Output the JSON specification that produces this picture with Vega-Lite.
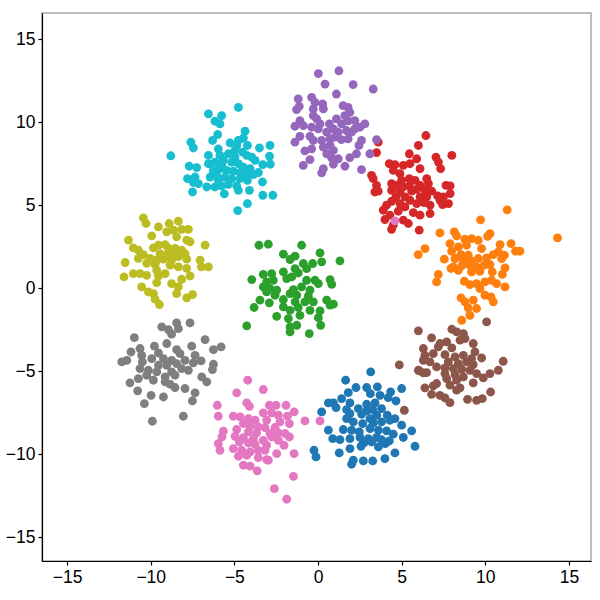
{
"$schema":"https://vega.github.io/schema/vega-lite/v6.json",
"width":549,"height":548,
"autosize":{"type":"none"},
"padding":{"left":42,"top":13,"right":9,"bottom":39},
"background":"white",
"config":{"view":{"stroke":"#a6a6a6","strokeWidth":1.5},"axis":{"grid":false,"domainColor":"black","domainWidth":1.2,"tickColor":"black","tickSize":4,"tickWidth":1.2,"labelColor":"black","labelFont":"Liberation Sans","labelFontSize":17.5,"title":null}},
"data":{"values":[
{"x":3.15,"y":-5.04,"g":"c1"},{"x":1.65,"y":-5.54,"g":"c1"},{"x":2.27,"y":-5.98,"g":"c1"},{"x":2.91,"y":-5.98,"g":"c1"},{"x":3.55,"y":-5.94,"g":"c1"},{"x":4.34,"y":-6.24,"g":"c1"},{"x":5.0,"y":-6.04,"g":"c1"},{"x":1.81,"y":-6.29,"g":"c1"},{"x":3.13,"y":-6.35,"g":"c1"},{"x":3.71,"y":-6.45,"g":"c1"},{"x":1.41,"y":-6.65,"g":"c1"},{"x":4.2,"y":-6.59,"g":"c1"},{"x":0.62,"y":-6.91,"g":"c1"},{"x":0.92,"y":-6.91,"g":"c1"},{"x":1.91,"y":-6.91,"g":"c1"},{"x":2.91,"y":-6.99,"g":"c1"},{"x":3.41,"y":-6.91,"g":"c1"},{"x":4.66,"y":-6.79,"g":"c1"},{"x":1.08,"y":-7.19,"g":"c1"},{"x":1.71,"y":-7.31,"g":"c1"},{"x":2.41,"y":-7.25,"g":"c1"},{"x":2.91,"y":-7.39,"g":"c1"},{"x":3.27,"y":-7.31,"g":"c1"},{"x":3.8,"y":-7.25,"g":"c1"},{"x":0.22,"y":-7.45,"g":"c1"},{"x":1.91,"y":-7.55,"g":"c1"},{"x":2.61,"y":-7.59,"g":"c1"},{"x":3.51,"y":-7.65,"g":"c1"},{"x":4.14,"y":-7.65,"g":"c1"},{"x":4.6,"y":-7.85,"g":"c1"},{"x":3.11,"y":-7.85,"g":"c1"},{"x":1.71,"y":-7.85,"g":"c1"},{"x":2.11,"y":-8.05,"g":"c1"},{"x":2.67,"y":-8.15,"g":"c1"},{"x":3.31,"y":-8.11,"g":"c1"},{"x":3.8,"y":-8.05,"g":"c1"},{"x":4.3,"y":-7.95,"g":"c1"},{"x":5.0,"y":-8.25,"g":"c1"},{"x":5.6,"y":-8.59,"g":"c1"},{"x":1.51,"y":-8.51,"g":"c1"},{"x":2.01,"y":-8.55,"g":"c1"},{"x":2.47,"y":-8.65,"g":"c1"},{"x":3.11,"y":-8.45,"g":"c1"},{"x":3.61,"y":-8.55,"g":"c1"},{"x":0.62,"y":-8.55,"g":"c1"},{"x":4.1,"y":-8.59,"g":"c1"},{"x":4.5,"y":-8.79,"g":"c1"},{"x":5.1,"y":-8.99,"g":"c1"},{"x":0.88,"y":-9.06,"g":"c1"},{"x":1.31,"y":-9.12,"g":"c1"},{"x":1.91,"y":-9.06,"g":"c1"},{"x":2.51,"y":-8.99,"g":"c1"},{"x":3.01,"y":-9.06,"g":"c1"},{"x":3.51,"y":-8.99,"g":"c1"},{"x":3.8,"y":-9.12,"g":"c1"},{"x":4.26,"y":-9.2,"g":"c1"},{"x":2.75,"y":-9.32,"g":"c1"},{"x":3.21,"y":-9.26,"g":"c1"},{"x":2.57,"y":-9.52,"g":"c1"},{"x":3.61,"y":-9.56,"g":"c1"},{"x":4.02,"y":-9.36,"g":"c1"},{"x":1.91,"y":-9.66,"g":"c1"},{"x":5.8,"y":-9.52,"g":"c1"},{"x":-0.24,"y":-9.76,"g":"c1"},{"x":-0.12,"y":-10.16,"g":"c1"},{"x":1.27,"y":-9.92,"g":"c1"},{"x":4.6,"y":-9.92,"g":"c1"},{"x":2.11,"y":-10.36,"g":"c1"},{"x":2.01,"y":-10.6,"g":"c1"},{"x":2.71,"y":-10.4,"g":"c1"},{"x":3.27,"y":-10.4,"g":"c1"},{"x":4.0,"y":-10.26,"g":"c1"},
{"x":11.31,"y":4.72,"g":"c2"},{"x":9.72,"y":4.12,"g":"c2"},{"x":14.32,"y":3.03,"g":"c2"},{"x":7.29,"y":3.33,"g":"c2"},{"x":8.15,"y":3.39,"g":"c2"},{"x":8.29,"y":3.15,"g":"c2"},{"x":10.28,"y":3.29,"g":"c2"},{"x":10.14,"y":3.13,"g":"c2"},{"x":8.78,"y":2.95,"g":"c2"},{"x":9.18,"y":2.99,"g":"c2"},{"x":9.58,"y":2.89,"g":"c2"},{"x":7.89,"y":2.69,"g":"c2"},{"x":8.39,"y":2.49,"g":"c2"},{"x":8.88,"y":2.59,"g":"c2"},{"x":9.78,"y":2.39,"g":"c2"},{"x":10.88,"y":2.63,"g":"c2"},{"x":11.54,"y":2.69,"g":"c2"},{"x":11.81,"y":2.23,"g":"c2"},{"x":12.07,"y":2.23,"g":"c2"},{"x":7.99,"y":2.23,"g":"c2"},{"x":6.4,"y":2.39,"g":"c2"},{"x":5.99,"y":2.03,"g":"c2"},{"x":8.55,"y":2.03,"g":"c2"},{"x":8.98,"y":1.99,"g":"c2"},{"x":10.48,"y":2.03,"g":"c2"},{"x":10.78,"y":2.19,"g":"c2"},{"x":11.14,"y":1.99,"g":"c2"},{"x":7.55,"y":1.75,"g":"c2"},{"x":8.19,"y":1.79,"g":"c2"},{"x":8.69,"y":1.69,"g":"c2"},{"x":9.18,"y":1.63,"g":"c2"},{"x":9.58,"y":1.79,"g":"c2"},{"x":10.08,"y":1.83,"g":"c2"},{"x":10.98,"y":1.79,"g":"c2"},{"x":8.09,"y":1.29,"g":"c2"},{"x":8.59,"y":1.35,"g":"c2"},{"x":9.08,"y":1.39,"g":"c2"},{"x":9.48,"y":1.29,"g":"c2"},{"x":9.94,"y":1.39,"g":"c2"},{"x":10.28,"y":1.43,"g":"c2"},{"x":7.95,"y":1.19,"g":"c2"},{"x":8.39,"y":1.08,"g":"c2"},{"x":9.18,"y":0.98,"g":"c2"},{"x":9.68,"y":1.02,"g":"c2"},{"x":10.42,"y":0.98,"g":"c2"},{"x":11.18,"y":1.22,"g":"c2"},{"x":11.02,"y":0.84,"g":"c2"},{"x":7.19,"y":0.84,"g":"c2"},{"x":7.09,"y":0.38,"g":"c2"},{"x":8.75,"y":0.42,"g":"c2"},{"x":9.08,"y":0.22,"g":"c2"},{"x":9.48,"y":0.28,"g":"c2"},{"x":9.98,"y":0.38,"g":"c2"},{"x":10.38,"y":0.48,"g":"c2"},{"x":10.68,"y":0.28,"g":"c2"},{"x":11.18,"y":0.08,"g":"c2"},{"x":9.68,"y":-0.02,"g":"c2"},{"x":8.55,"y":-0.58,"g":"c2"},{"x":8.79,"y":-0.82,"g":"c2"},{"x":9.28,"y":-0.72,"g":"c2"},{"x":9.98,"y":-0.42,"g":"c2"},{"x":10.34,"y":-0.52,"g":"c2"},{"x":10.48,"y":-0.82,"g":"c2"},{"x":9.48,"y":-1.22,"g":"c2"},{"x":8.98,"y":-1.18,"g":"c2"},{"x":8.59,"y":-1.93,"g":"c2"},{"x":9.08,"y":-1.63,"g":"c2"},
{"x":-3.53,"y":2.59,"g":"c3"},{"x":-2.97,"y":2.65,"g":"c3"},{"x":-0.98,"y":2.59,"g":"c3"},{"x":-2.07,"y":2.05,"g":"c3"},{"x":-1.67,"y":1.73,"g":"c3"},{"x":-1.37,"y":1.93,"g":"c3"},{"x":0.12,"y":2.13,"g":"c3"},{"x":1.31,"y":1.65,"g":"c3"},{"x":-0.88,"y":1.49,"g":"c3"},{"x":-0.32,"y":1.49,"g":"c3"},{"x":0.22,"y":1.59,"g":"c3"},{"x":-0.68,"y":1.18,"g":"c3"},{"x":-2.07,"y":0.98,"g":"c3"},{"x":-1.37,"y":1.18,"g":"c3"},{"x":-1.18,"y":0.92,"g":"c3"},{"x":-3.27,"y":0.84,"g":"c3"},{"x":-2.77,"y":0.88,"g":"c3"},{"x":-3.96,"y":0.52,"g":"c3"},{"x":-3.07,"y":0.38,"g":"c3"},{"x":-2.67,"y":0.48,"g":"c3"},{"x":-1.87,"y":0.58,"g":"c3"},{"x":-1.57,"y":0.68,"g":"c3"},{"x":-0.68,"y":0.48,"g":"c3"},{"x":-0.18,"y":0.48,"g":"c3"},{"x":0.02,"y":0.28,"g":"c3"},{"x":0.72,"y":0.52,"g":"c3"},{"x":0.82,"y":0.24,"g":"c3"},{"x":-3.27,"y":0.08,"g":"c3"},{"x":-2.87,"y":-0.02,"g":"c3"},{"x":-2.47,"y":-0.12,"g":"c3"},{"x":-1.47,"y":-0.08,"g":"c3"},{"x":-0.98,"y":0.08,"g":"c3"},{"x":-0.48,"y":-0.12,"g":"c3"},{"x":-3.07,"y":-0.22,"g":"c3"},{"x":-2.57,"y":-0.42,"g":"c3"},{"x":-1.67,"y":-0.32,"g":"c3"},{"x":-1.27,"y":-0.42,"g":"c3"},{"x":-0.58,"y":-0.48,"g":"c3"},{"x":-2.07,"y":-0.68,"g":"c3"},{"x":-3.47,"y":-0.72,"g":"c3"},{"x":-1.37,"y":-0.82,"g":"c3"},{"x":-0.78,"y":-0.82,"g":"c3"},{"x":-0.28,"y":-0.82,"g":"c3"},{"x":0.52,"y":-0.72,"g":"c3"},{"x":0.92,"y":-0.96,"g":"c3"},{"x":-3.82,"y":-1.16,"g":"c3"},{"x":-2.91,"y":-0.88,"g":"c3"},{"x":-2.07,"y":-1.12,"g":"c3"},{"x":-1.67,"y":-1.33,"g":"c3"},{"x":-1.18,"y":-1.16,"g":"c3"},{"x":-0.48,"y":-1.33,"g":"c3"},{"x":0.12,"y":-1.37,"g":"c3"},{"x":0.72,"y":-1.02,"g":"c3"},{"x":-2.47,"y":-1.69,"g":"c3"},{"x":-1.77,"y":-1.83,"g":"c3"},{"x":-1.08,"y":-1.63,"g":"c3"},{"x":0.02,"y":-1.77,"g":"c3"},{"x":-4.26,"y":-2.27,"g":"c3"},{"x":-1.67,"y":-2.33,"g":"c3"},{"x":-1.27,"y":-2.23,"g":"c3"},{"x":0.16,"y":-2.23,"g":"c3"},{"x":-1.67,"y":-2.63,"g":"c3"},{"x":-0.52,"y":-2.73,"g":"c3"},
{"x":6.45,"y":9.2,"g":"c4"},{"x":3.6,"y":8.8,"g":"c4"},{"x":6.0,"y":8.6,"g":"c4"},{"x":3.5,"y":8.17,"g":"c4"},{"x":5.46,"y":8.1,"g":"c4"},{"x":5.9,"y":7.8,"g":"c4"},{"x":7.05,"y":7.9,"g":"c4"},{"x":8.0,"y":8.0,"g":"c4"},{"x":7.2,"y":7.6,"g":"c4"},{"x":7.33,"y":7.2,"g":"c4"},{"x":4.26,"y":7.5,"g":"c4"},{"x":4.6,"y":7.45,"g":"c4"},{"x":5.1,"y":7.4,"g":"c4"},{"x":5.5,"y":7.5,"g":"c4"},{"x":6.1,"y":7.2,"g":"c4"},{"x":4.5,"y":7.1,"g":"c4"},{"x":4.9,"y":6.9,"g":"c4"},{"x":3.2,"y":6.8,"g":"c4"},{"x":3.3,"y":6.6,"g":"c4"},{"x":5.0,"y":6.5,"g":"c4"},{"x":5.46,"y":6.6,"g":"c4"},{"x":5.8,"y":6.5,"g":"c4"},{"x":6.5,"y":6.6,"g":"c4"},{"x":4.4,"y":6.3,"g":"c4"},{"x":4.7,"y":6.2,"g":"c4"},{"x":5.1,"y":6.1,"g":"c4"},{"x":5.46,"y":6.16,"g":"c4"},{"x":6.1,"y":6.2,"g":"c4"},{"x":6.6,"y":6.3,"g":"c4"},{"x":3.5,"y":6.2,"g":"c4"},{"x":7.65,"y":6.2,"g":"c4"},{"x":7.9,"y":6.16,"g":"c4"},{"x":3.6,"y":5.85,"g":"c4"},{"x":4.4,"y":5.9,"g":"c4"},{"x":4.9,"y":5.8,"g":"c4"},{"x":5.6,"y":5.85,"g":"c4"},{"x":5.9,"y":5.96,"g":"c4"},{"x":6.4,"y":5.9,"g":"c4"},{"x":6.8,"y":5.85,"g":"c4"},{"x":3.4,"y":5.8,"g":"c4"},{"x":7.9,"y":5.7,"g":"c4"},{"x":4.66,"y":5.5,"g":"c4"},{"x":5.2,"y":5.5,"g":"c4"},{"x":6.1,"y":5.5,"g":"c4"},{"x":6.5,"y":5.5,"g":"c4"},{"x":7.15,"y":5.56,"g":"c4"},{"x":7.5,"y":5.5,"g":"c4"},{"x":4.4,"y":5.24,"g":"c4"},{"x":4.9,"y":5.1,"g":"c4"},{"x":5.5,"y":5.3,"g":"c4"},{"x":5.9,"y":5.1,"g":"c4"},{"x":6.33,"y":5.16,"g":"c4"},{"x":6.7,"y":5.0,"g":"c4"},{"x":7.3,"y":5.3,"g":"c4"},{"x":7.45,"y":5.04,"g":"c4"},{"x":7.8,"y":5.1,"g":"c4"},{"x":4.1,"y":5.0,"g":"c4"},{"x":5.2,"y":4.9,"g":"c4"},{"x":3.9,"y":4.7,"g":"c4"},{"x":4.8,"y":4.64,"g":"c4"},{"x":5.7,"y":4.56,"g":"c4"},{"x":6.1,"y":4.4,"g":"c4"},{"x":6.7,"y":4.5,"g":"c4"},{"x":4.3,"y":4.4,"g":"c4"},{"x":4.0,"y":4.14,"g":"c4"},{"x":5.1,"y":4.1,"g":"c4"},{"x":5.4,"y":3.9,"g":"c4"},{"x":4.5,"y":3.8,"g":"c4"},{"x":4.4,"y":3.55,"g":"c4"},{"x":6.05,"y":3.5,"g":"c4"},
{"x":0.02,"y":12.93,"g":"c5"},{"x":1.25,"y":13.1,"g":"c5"},{"x":0.42,"y":12.3,"g":"c5"},{"x":2.1,"y":12.27,"g":"c5"},{"x":3.3,"y":12.0,"g":"c5"},{"x":1.1,"y":11.7,"g":"c5"},{"x":-1.18,"y":11.4,"g":"c5"},{"x":-0.38,"y":11.5,"g":"c5"},{"x":-1.28,"y":10.76,"g":"c5"},{"x":-1.12,"y":10.96,"g":"c5"},{"x":-0.18,"y":11.2,"g":"c5"},{"x":0.28,"y":11.1,"g":"c5"},{"x":-0.28,"y":10.8,"g":"c5"},{"x":0.32,"y":10.8,"g":"c5"},{"x":1.5,"y":11.0,"g":"c5"},{"x":1.8,"y":10.9,"g":"c5"},{"x":1.9,"y":10.6,"g":"c5"},{"x":1.6,"y":10.4,"g":"c5"},{"x":-0.28,"y":10.4,"g":"c5"},{"x":-0.08,"y":10.2,"g":"c5"},{"x":-1.08,"y":10.1,"g":"c5"},{"x":-1.38,"y":9.76,"g":"c5"},{"x":-0.88,"y":9.8,"g":"c5"},{"x":-0.38,"y":9.7,"g":"c5"},{"x":0.12,"y":9.9,"g":"c5"},{"x":0.68,"y":9.9,"g":"c5"},{"x":0.92,"y":9.6,"g":"c5"},{"x":1.41,"y":9.9,"g":"c5"},{"x":1.8,"y":10.08,"g":"c5"},{"x":2.2,"y":10.1,"g":"c5"},{"x":2.8,"y":9.9,"g":"c5"},{"x":2.5,"y":9.7,"g":"c5"},{"x":1.2,"y":9.4,"g":"c5"},{"x":1.7,"y":9.5,"g":"c5"},{"x":2.0,"y":9.4,"g":"c5"},{"x":2.2,"y":9.6,"g":"c5"},{"x":0.52,"y":9.4,"g":"c5"},{"x":-1.08,"y":9.15,"g":"c5"},{"x":-0.48,"y":9.15,"g":"c5"},{"x":-0.28,"y":8.9,"g":"c5"},{"x":0.22,"y":8.9,"g":"c5"},{"x":0.72,"y":9.0,"g":"c5"},{"x":1.0,"y":9.1,"g":"c5"},{"x":1.4,"y":8.95,"g":"c5"},{"x":1.8,"y":9.0,"g":"c5"},{"x":-1.38,"y":8.8,"g":"c5"},{"x":2.6,"y":8.9,"g":"c5"},{"x":3.5,"y":8.95,"g":"c5"},{"x":0.32,"y":8.5,"g":"c5"},{"x":0.72,"y":8.6,"g":"c5"},{"x":0.92,"y":8.3,"g":"c5"},{"x":2.45,"y":8.6,"g":"c5"},{"x":-0.78,"y":8.27,"g":"c5"},{"x":-0.38,"y":8.4,"g":"c5"},{"x":0.52,"y":8.1,"g":"c5"},{"x":2.3,"y":8.1,"g":"c5"},{"x":3.1,"y":8.1,"g":"c5"},{"x":-0.48,"y":7.75,"g":"c5"},{"x":0.82,"y":7.85,"g":"c5"},{"x":1.21,"y":7.8,"g":"c5"},{"x":1.9,"y":7.87,"g":"c5"},{"x":-0.88,"y":7.4,"g":"c5"},{"x":0.92,"y":7.47,"g":"c5"},{"x":1.61,"y":7.35,"g":"c5"},{"x":2.6,"y":7.15,"g":"c5"},{"x":0.32,"y":7.2,"g":"c5"},{"x":0.22,"y":6.95,"g":"c5"},{"x":0.02,"y":9.6,"g":"c5"},{"x":1.1,"y":10.2,"g":"c5"},
{"x":10.08,"y":-2.03,"g":"c6"},{"x":6.0,"y":-2.57,"g":"c6"},{"x":8.0,"y":-2.47,"g":"c6"},{"x":8.29,"y":-2.63,"g":"c6"},{"x":8.69,"y":-2.73,"g":"c6"},{"x":8.79,"y":-3.03,"g":"c6"},{"x":6.79,"y":-2.99,"g":"c6"},{"x":8.49,"y":-3.13,"g":"c6"},{"x":7.29,"y":-3.33,"g":"c6"},{"x":7.69,"y":-3.23,"g":"c6"},{"x":9.28,"y":-3.33,"g":"c6"},{"x":7.19,"y":-3.53,"g":"c6"},{"x":8.0,"y":-3.59,"g":"c6"},{"x":6.3,"y":-3.63,"g":"c6"},{"x":6.39,"y":-4.04,"g":"c6"},{"x":9.38,"y":-3.84,"g":"c6"},{"x":7.59,"y":-4.0,"g":"c6"},{"x":8.19,"y":-4.14,"g":"c6"},{"x":8.69,"y":-4.04,"g":"c6"},{"x":9.18,"y":-4.24,"g":"c6"},{"x":9.78,"y":-4.2,"g":"c6"},{"x":6.89,"y":-3.94,"g":"c6"},{"x":11.07,"y":-4.4,"g":"c6"},{"x":6.3,"y":-4.34,"g":"c6"},{"x":6.69,"y":-4.44,"g":"c6"},{"x":7.79,"y":-4.44,"g":"c6"},{"x":8.39,"y":-4.54,"g":"c6"},{"x":8.88,"y":-4.44,"g":"c6"},{"x":9.28,"y":-4.6,"g":"c6"},{"x":7.09,"y":-4.74,"g":"c6"},{"x":7.59,"y":-4.8,"g":"c6"},{"x":8.09,"y":-4.84,"g":"c6"},{"x":8.59,"y":-4.88,"g":"c6"},{"x":9.08,"y":-4.94,"g":"c6"},{"x":10.78,"y":-4.94,"g":"c6"},{"x":6.0,"y":-4.94,"g":"c6"},{"x":6.49,"y":-5.08,"g":"c6"},{"x":7.59,"y":-5.14,"g":"c6"},{"x":8.19,"y":-5.2,"g":"c6"},{"x":9.48,"y":-5.14,"g":"c6"},{"x":10.28,"y":-5.14,"g":"c6"},{"x":7.69,"y":-5.44,"g":"c6"},{"x":8.69,"y":-5.34,"g":"c6"},{"x":9.88,"y":-5.4,"g":"c6"},{"x":8.29,"y":-5.54,"g":"c6"},{"x":7.89,"y":-5.84,"g":"c6"},{"x":9.28,"y":-5.7,"g":"c6"},{"x":6.39,"y":-6.0,"g":"c6"},{"x":6.89,"y":-5.88,"g":"c6"},{"x":7.09,"y":-5.74,"g":"c6"},{"x":8.29,"y":-6.14,"g":"c6"},{"x":8.49,"y":-6.0,"g":"c6"},{"x":6.79,"y":-6.39,"g":"c6"},{"x":7.29,"y":-6.45,"g":"c6"},{"x":7.59,"y":-6.61,"g":"c6"},{"x":7.89,"y":-6.89,"g":"c6"},{"x":8.94,"y":-6.69,"g":"c6"},{"x":9.48,"y":-6.75,"g":"c6"},{"x":9.82,"y":-6.65,"g":"c6"},{"x":10.32,"y":-6.25,"g":"c6"},{"x":4.86,"y":-4.62,"g":"c6"},{"x":6.06,"y":-4.98,"g":"c6"},{"x":6.3,"y":-5.1,"g":"c6"},{"x":5.16,"y":-7.35,"g":"c6"},
{"x":-4.2,"y":-5.54,"g":"c7"},{"x":-4.86,"y":-6.3,"g":"c7"},{"x":-3.27,"y":-6.1,"g":"c7"},{"x":-6.02,"y":-7.05,"g":"c7"},{"x":-4.26,"y":-6.91,"g":"c7"},{"x":-4.1,"y":-7.11,"g":"c7"},{"x":-5.96,"y":-7.71,"g":"c7"},{"x":-2.91,"y":-7.05,"g":"c7"},{"x":-2.51,"y":-7.05,"g":"c7"},{"x":-1.91,"y":-7.05,"g":"c7"},{"x":-3.27,"y":-7.51,"g":"c7"},{"x":-2.77,"y":-7.51,"g":"c7"},{"x":-2.37,"y":-7.65,"g":"c7"},{"x":-1.43,"y":-7.45,"g":"c7"},{"x":-1.83,"y":-7.71,"g":"c7"},{"x":-5.06,"y":-7.71,"g":"c7"},{"x":-4.66,"y":-7.75,"g":"c7"},{"x":-4.16,"y":-7.85,"g":"c7"},{"x":-3.76,"y":-7.95,"g":"c7"},{"x":-3.07,"y":-7.95,"g":"c7"},{"x":-2.27,"y":-8.05,"g":"c7"},{"x":-1.71,"y":-8.15,"g":"c7"},{"x":-0.78,"y":-7.99,"g":"c7"},{"x":-4.46,"y":-8.15,"g":"c7"},{"x":-4.06,"y":-8.31,"g":"c7"},{"x":-3.57,"y":-8.35,"g":"c7"},{"x":-3.17,"y":-8.39,"g":"c7"},{"x":-2.57,"y":-8.39,"g":"c7"},{"x":-4.86,"y":-8.51,"g":"c7"},{"x":-5.66,"y":-8.61,"g":"c7"},{"x":-4.16,"y":-8.65,"g":"c7"},{"x":-3.67,"y":-8.71,"g":"c7"},{"x":-2.87,"y":-8.75,"g":"c7"},{"x":-2.37,"y":-8.71,"g":"c7"},{"x":-1.97,"y":-8.75,"g":"c7"},{"x":-4.96,"y":-8.92,"g":"c7"},{"x":-5.74,"y":-8.96,"g":"c7"},{"x":-4.46,"y":-9.0,"g":"c7"},{"x":-3.86,"y":-9.06,"g":"c7"},{"x":-3.27,"y":-9.16,"g":"c7"},{"x":-2.77,"y":-8.96,"g":"c7"},{"x":-2.37,"y":-9.16,"g":"c7"},{"x":-1.71,"y":-8.96,"g":"c7"},{"x":-4.7,"y":-9.26,"g":"c7"},{"x":-4.16,"y":-9.32,"g":"c7"},{"x":-3.76,"y":-9.4,"g":"c7"},{"x":-3.07,"y":-9.46,"g":"c7"},{"x":-5.96,"y":-9.36,"g":"c7"},{"x":-5.86,"y":-9.76,"g":"c7"},{"x":-5.06,"y":-9.66,"g":"c7"},{"x":-4.56,"y":-9.76,"g":"c7"},{"x":-4.06,"y":-9.86,"g":"c7"},{"x":-3.57,"y":-9.76,"g":"c7"},{"x":-3.17,"y":-9.76,"g":"c7"},{"x":-2.03,"y":-9.46,"g":"c7"},{"x":-2.47,"y":-9.96,"g":"c7"},{"x":-4.76,"y":-10.12,"g":"c7"},{"x":-4.26,"y":-10.06,"g":"c7"},{"x":-3.57,"y":-10.2,"g":"c7"},{"x":-3.07,"y":-10.32,"g":"c7"},{"x":-1.43,"y":-9.96,"g":"c7"},{"x":-4.46,"y":-10.66,"g":"c7"},{"x":-4.06,"y":-10.72,"g":"c7"},{"x":-3.63,"y":-11.0,"g":"c7"},{"x":-2.97,"y":-10.36,"g":"c7"},{"x":-1.47,"y":-11.33,"g":"c7"},{"x":-2.61,"y":-12.07,"g":"c7"},{"x":-1.87,"y":-12.71,"g":"c7"},{"x":0.12,"y":-7.99,"g":"c7"},{"x":4.6,"y":4.06,"g":"c7"},
{"x":-9.34,"y":-2.33,"g":"c8"},{"x":-8.94,"y":-2.49,"g":"c8"},{"x":-8.45,"y":-2.09,"g":"c8"},{"x":-8.35,"y":-2.43,"g":"c8"},{"x":-7.65,"y":-2.09,"g":"c8"},{"x":-8.75,"y":-2.77,"g":"c8"},{"x":-10.98,"y":-2.97,"g":"c8"},{"x":-6.75,"y":-3.09,"g":"c8"},{"x":-5.79,"y":-3.53,"g":"c8"},{"x":-6.25,"y":-3.7,"g":"c8"},{"x":-9.78,"y":-3.49,"g":"c8"},{"x":-9.04,"y":-3.33,"g":"c8"},{"x":-10.64,"y":-3.63,"g":"c8"},{"x":-11.18,"y":-3.84,"g":"c8"},{"x":-9.54,"y":-3.9,"g":"c8"},{"x":-8.45,"y":-3.7,"g":"c8"},{"x":-8.25,"y":-3.94,"g":"c8"},{"x":-7.55,"y":-3.49,"g":"c8"},{"x":-7.35,"y":-4.04,"g":"c8"},{"x":-10.54,"y":-4.04,"g":"c8"},{"x":-11.43,"y":-4.34,"g":"c8"},{"x":-11.73,"y":-4.44,"g":"c8"},{"x":-10.5,"y":-4.44,"g":"c8"},{"x":-9.94,"y":-4.24,"g":"c8"},{"x":-9.24,"y":-4.24,"g":"c8"},{"x":-8.75,"y":-4.34,"g":"c8"},{"x":-7.95,"y":-4.34,"g":"c8"},{"x":-7.45,"y":-4.5,"g":"c8"},{"x":-6.99,"y":-4.38,"g":"c8"},{"x":-9.54,"y":-4.64,"g":"c8"},{"x":-9.04,"y":-4.64,"g":"c8"},{"x":-8.45,"y":-4.54,"g":"c8"},{"x":-8.15,"y":-4.84,"g":"c8"},{"x":-10.64,"y":-4.84,"g":"c8"},{"x":-10.14,"y":-4.94,"g":"c8"},{"x":-9.64,"y":-5.04,"g":"c8"},{"x":-8.75,"y":-5.04,"g":"c8"},{"x":-7.75,"y":-4.94,"g":"c8"},{"x":-6.25,"y":-4.58,"g":"c8"},{"x":-6.31,"y":-4.9,"g":"c8"},{"x":-10.24,"y":-5.24,"g":"c8"},{"x":-9.14,"y":-5.34,"g":"c8"},{"x":-8.55,"y":-5.24,"g":"c8"},{"x":-10.74,"y":-5.44,"g":"c8"},{"x":-11.24,"y":-5.7,"g":"c8"},{"x":-9.84,"y":-5.54,"g":"c8"},{"x":-9.14,"y":-5.64,"g":"c8"},{"x":-8.85,"y":-5.78,"g":"c8"},{"x":-6.95,"y":-5.34,"g":"c8"},{"x":-6.65,"y":-5.64,"g":"c8"},{"x":-10.78,"y":-6.18,"g":"c8"},{"x":-8.55,"y":-5.98,"g":"c8"},{"x":-7.95,"y":-6.04,"g":"c8"},{"x":-7.35,"y":-6.3,"g":"c8"},{"x":-9.98,"y":-6.45,"g":"c8"},{"x":-9.24,"y":-6.55,"g":"c8"},{"x":-10.38,"y":-6.95,"g":"c8"},{"x":-7.51,"y":-6.79,"g":"c8"},{"x":-8.05,"y":-7.71,"g":"c8"},{"x":-9.9,"y":-8.01,"g":"c8"},
{"x":-10.44,"y":4.24,"g":"c9"},{"x":-10.28,"y":3.9,"g":"c9"},{"x":-9.54,"y":3.7,"g":"c9"},{"x":-8.9,"y":3.9,"g":"c9"},{"x":-8.35,"y":4.04,"g":"c9"},{"x":-9.04,"y":3.4,"g":"c9"},{"x":-8.64,"y":3.5,"g":"c9"},{"x":-8.15,"y":3.55,"g":"c9"},{"x":-7.75,"y":3.55,"g":"c9"},{"x":-9.94,"y":3.15,"g":"c9"},{"x":-8.45,"y":3.1,"g":"c9"},{"x":-7.85,"y":2.9,"g":"c9"},{"x":-7.65,"y":2.8,"g":"c9"},{"x":-11.33,"y":2.9,"g":"c9"},{"x":-6.75,"y":2.6,"g":"c9"},{"x":-9.54,"y":2.6,"g":"c9"},{"x":-9.14,"y":2.63,"g":"c9"},{"x":-9.84,"y":2.43,"g":"c9"},{"x":-8.94,"y":2.4,"g":"c9"},{"x":-8.55,"y":2.4,"g":"c9"},{"x":-8.15,"y":2.3,"g":"c9"},{"x":-11.04,"y":2.43,"g":"c9"},{"x":-10.74,"y":2.3,"g":"c9"},{"x":-10.44,"y":2.03,"g":"c9"},{"x":-9.44,"y":2.09,"g":"c9"},{"x":-9.04,"y":2.0,"g":"c9"},{"x":-8.65,"y":2.09,"g":"c9"},{"x":-8.35,"y":1.9,"g":"c9"},{"x":-7.95,"y":2.09,"g":"c9"},{"x":-10.74,"y":1.8,"g":"c9"},{"x":-10.04,"y":1.8,"g":"c9"},{"x":-9.64,"y":1.7,"g":"c9"},{"x":-9.24,"y":1.75,"g":"c9"},{"x":-8.75,"y":1.7,"g":"c9"},{"x":-7.85,"y":1.75,"g":"c9"},{"x":-11.53,"y":1.55,"g":"c9"},{"x":-10.24,"y":1.5,"g":"c9"},{"x":-9.74,"y":1.43,"g":"c9"},{"x":-8.84,"y":1.39,"g":"c9"},{"x":-8.35,"y":1.29,"g":"c9"},{"x":-7.05,"y":1.69,"g":"c9"},{"x":-6.97,"y":1.29,"g":"c9"},{"x":-6.55,"y":1.29,"g":"c9"},{"x":-7.85,"y":1.2,"g":"c9"},{"x":-11.04,"y":0.88,"g":"c9"},{"x":-10.64,"y":0.88,"g":"c9"},{"x":-10.24,"y":0.78,"g":"c9"},{"x":-9.64,"y":1.08,"g":"c9"},{"x":-9.54,"y":0.74,"g":"c9"},{"x":-11.6,"y":0.68,"g":"c9"},{"x":-9.14,"y":0.88,"g":"c9"},{"x":-8.15,"y":0.54,"g":"c9"},{"x":-7.65,"y":0.74,"g":"c9"},{"x":-9.64,"y":0.34,"g":"c9"},{"x":-8.75,"y":0.28,"g":"c9"},{"x":-8.35,"y":0.08,"g":"c9"},{"x":-10.54,"y":0.08,"g":"c9"},{"x":-10.14,"y":-0.22,"g":"c9"},{"x":-9.84,"y":-0.32,"g":"c9"},{"x":-8.45,"y":-0.32,"g":"c9"},{"x":-7.85,"y":-0.58,"g":"c9"},{"x":-7.5,"y":-0.38,"g":"c9"},{"x":-9.74,"y":-0.66,"g":"c9"},{"x":-9.48,"y":-0.98,"g":"c9"},
{"x":-4.76,"y":10.9,"g":"c10"},{"x":-6.55,"y":10.5,"g":"c10"},{"x":-5.76,"y":10.4,"g":"c10"},{"x":-6.16,"y":10.06,"g":"c10"},{"x":-5.86,"y":9.9,"g":"c10"},{"x":-4.36,"y":9.46,"g":"c10"},{"x":-6.0,"y":9.26,"g":"c10"},{"x":-6.3,"y":8.9,"g":"c10"},{"x":-7.6,"y":8.8,"g":"c10"},{"x":-7.45,"y":8.45,"g":"c10"},{"x":-5.26,"y":8.75,"g":"c10"},{"x":-4.76,"y":8.9,"g":"c10"},{"x":-4.46,"y":9.05,"g":"c10"},{"x":-4.22,"y":8.6,"g":"c10"},{"x":-3.5,"y":8.45,"g":"c10"},{"x":-2.87,"y":8.6,"g":"c10"},{"x":-8.8,"y":7.98,"g":"c10"},{"x":-6.55,"y":8.0,"g":"c10"},{"x":-5.96,"y":8.4,"g":"c10"},{"x":-5.86,"y":8.0,"g":"c10"},{"x":-5.36,"y":8.1,"g":"c10"},{"x":-4.96,"y":8.3,"g":"c10"},{"x":-4.5,"y":8.2,"g":"c10"},{"x":-4.26,"y":8.0,"g":"c10"},{"x":-3.96,"y":7.9,"g":"c10"},{"x":-3.76,"y":7.7,"g":"c10"},{"x":-2.9,"y":7.95,"g":"c10"},{"x":-3.3,"y":7.45,"g":"c10"},{"x":-2.85,"y":7.47,"g":"c10"},{"x":-7.7,"y":7.35,"g":"c10"},{"x":-7.25,"y":7.27,"g":"c10"},{"x":-6.55,"y":7.5,"g":"c10"},{"x":-6.16,"y":7.6,"g":"c10"},{"x":-5.66,"y":7.7,"g":"c10"},{"x":-5.16,"y":7.6,"g":"c10"},{"x":-4.76,"y":7.5,"g":"c10"},{"x":-4.46,"y":7.3,"g":"c10"},{"x":-4.06,"y":7.2,"g":"c10"},{"x":-6.26,"y":7.1,"g":"c10"},{"x":-5.86,"y":7.2,"g":"c10"},{"x":-5.46,"y":7.1,"g":"c10"},{"x":-5.06,"y":7.05,"g":"c10"},{"x":-4.66,"y":6.97,"g":"c10"},{"x":-4.3,"y":6.85,"g":"c10"},{"x":-3.86,"y":6.85,"g":"c10"},{"x":-3.56,"y":6.97,"g":"c10"},{"x":-7.8,"y":6.6,"g":"c10"},{"x":-7.35,"y":6.7,"g":"c10"},{"x":-6.45,"y":6.7,"g":"c10"},{"x":-6.06,"y":6.8,"g":"c10"},{"x":-5.56,"y":6.7,"g":"c10"},{"x":-5.16,"y":6.6,"g":"c10"},{"x":-4.66,"y":6.6,"g":"c10"},{"x":-4.22,"y":6.5,"g":"c10"},{"x":-7.45,"y":6.37,"g":"c10"},{"x":-7.15,"y":6.3,"g":"c10"},{"x":-6.65,"y":6.1,"g":"c10"},{"x":-6.16,"y":6.1,"g":"c10"},{"x":-5.76,"y":6.16,"g":"c10"},{"x":-5.36,"y":6.25,"g":"c10"},{"x":-4.86,"y":6.16,"g":"c10"},{"x":-4.76,"y":5.9,"g":"c10"},{"x":-3.32,"y":6.4,"g":"c10"},{"x":-4.1,"y":5.9,"g":"c10"},{"x":-7.5,"y":5.8,"g":"c10"},{"x":-5.6,"y":5.68,"g":"c10"},{"x":-3.3,"y":5.6,"g":"c10"},{"x":-2.7,"y":5.6,"g":"c10"},{"x":-4.22,"y":5.1,"g":"c10"},{"x":-4.8,"y":4.68,"g":"c10"},{"x":-5.96,"y":6.5,"g":"c10"},{"x":-5.76,"y":7.4,"g":"c10"},{"x":-4.96,"y":7.9,"g":"c10"},{"x":-4.86,"y":8.6,"g":"c10"}
]},
"mark":{"type":"point","filled":true,"opacity":1,"size":78,"shape":"circle"},
"encoding":{
"x":{"field":"x","type":"quantitative","scale":{"domain":[-16.5,16.32],"nice":false,"zero":false},"axis":{"values":[-15,-10,-5,0,5,10,15],"labelPadding":3}},
"y":{"field":"y","type":"quantitative","scale":{"domain":[-16.43,16.58],"nice":false,"zero":false},"axis":{"values":[-15,-10,-5,0,5,10,15],"labelPadding":3}},
"color":{"field":"g","type":"nominal","legend":null,"scale":{"domain":["c1","c2","c3","c4","c5","c6","c7","c8","c9","c10"],"range":["#1f77b4","#ff7f0e","#2ca02c","#d62728","#9467bd","#8c564b","#e377c2","#7f7f7f","#bcbd22","#17becf"]}}
}
}
